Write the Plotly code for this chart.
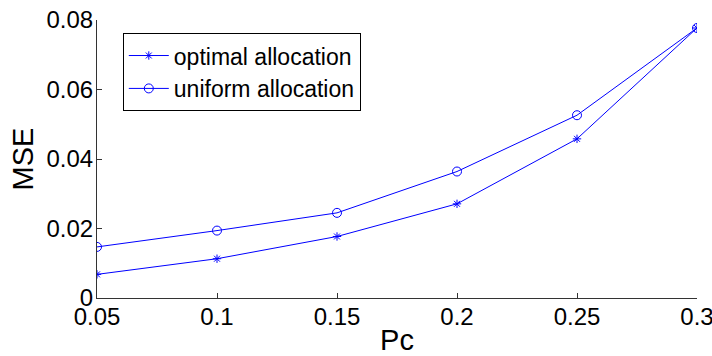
import plotly.graph_objects as go

pc = [0.05, 0.1, 0.15, 0.2, 0.25, 0.3]
optimal = [0.0068, 0.0113, 0.0177, 0.0271, 0.0458, 0.0777]
uniform = [0.0147, 0.0194, 0.0245, 0.0364, 0.0526, 0.0777]
xticks = [0.05, 0.1, 0.15, 0.2, 0.25, 0.3]
xticklabels = ["0.05", "0.1", "0.15", "0.2", "0.25", "0.3"]
yticks = [0, 0.02, 0.04, 0.06, 0.08]
yticklabels = ["0", "0.02", "0.04", "0.06", "0.08"]

font = "Liberation Sans, Arial, sans-serif"
blue = "rgb(0,0,255)"
axcol = "#333333"

fig = go.Figure()
fig.add_trace(go.Scatter(x=pc, y=optimal, mode="lines+markers", name="optimal allocation",
                         line=dict(color=blue, width=1),
                         marker=dict(symbol="asterisk-open", size=7, color=blue, line=dict(color=blue, width=1))))
fig.add_trace(go.Scatter(x=pc, y=uniform, mode="lines+markers", name="uniform allocation",
                         line=dict(color=blue, width=1),
                         marker=dict(symbol="circle-open", size=9, color=blue, line=dict(color=blue, width=1))))

fig.update_layout(
    width=712, height=356,
    margin=dict(l=97, r=15, t=20, b=58, autoexpand=False),
    paper_bgcolor="white", plot_bgcolor="white",
    font=dict(family=font, size=24, color="black"),
    showlegend=True,
    legend=dict(x=0.043, y=0.953, xanchor="left", yanchor="top",
                bordercolor="black", borderwidth=1, bgcolor="white",
                font=dict(size=23), tracegroupgap=0, itemwidth=40),
)
fig.update_xaxes(range=[0.05, 0.3], tickvals=xticks, ticktext=xticklabels,
                 showgrid=False, zeroline=False, showline=True, linecolor=axcol, linewidth=1,
                 ticks="inside", ticklen=5, tickcolor=axcol, mirror=False, automargin=False,
                 ticklabeloverflow="allow",
                 title=dict(text="Pc", standoff=0), ticklabelstandoff=-3)
fig.update_yaxes(range=[0, 0.08], tickvals=yticks, ticktext=yticklabels,
                 showgrid=False, zeroline=False, showline=True, linecolor=axcol, linewidth=1,
                 ticks="inside", ticklen=5, tickcolor=axcol, mirror=False, automargin=False,
                 ticklabeloverflow="allow", ticklabelstandoff=-2,
                 title=dict(text="MSE", standoff=4))
fig.write_html("out.html")
